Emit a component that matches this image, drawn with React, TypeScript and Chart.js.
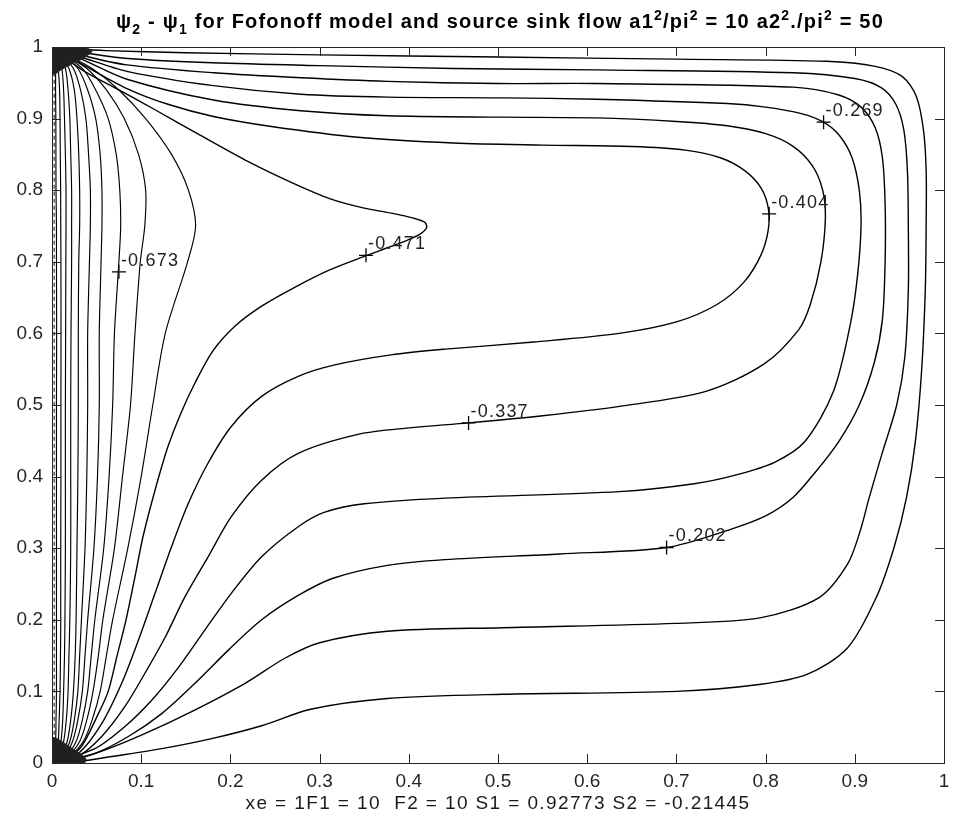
import React, { useEffect, useRef } from "react";
import { Chart, registerables } from "chart.js";
Chart.register(...registerables);

// ---------- axis ticks ----------
const xTicks = [0, 0.1, 0.2, 0.3, 0.4, 0.5, 0.6, 0.7, 0.8, 0.9, 1];
const yTicks = [0, 0.1, 0.2, 0.3, 0.4, 0.5, 0.6, 0.7, 0.8, 0.9, 1];

// ---------- ring contours (bottom-left corner -> right wall -> top-left corner) ----------
const L1x = [0, 0.03, 0.067, 0.123, 0.179, 0.235, 0.29, 0.376, 0.505, 0.7, 0.795, 0.847, 0.892, 0.924, 0.944, 0.958, 0.968, 0.975, 0.979, 0.98, 0.98, 0.977, 0.969, 0.953, 0.923, 0.868, 0.7, 0.5, 0.3, 0.15, 0.06, 0.02, 0];
const L1y = [0, 0.002, 0.009, 0.02, 0.034, 0.052, 0.075, 0.09, 0.096, 0.1, 0.11, 0.124, 0.161, 0.231, 0.301, 0.371, 0.45, 0.55, 0.66, 0.75, 0.827, 0.884, 0.931, 0.959, 0.973, 0.98, 0.983, 0.986, 0.989, 0.992, 0.995, 0.998, 1];

const L2x = [0, 0.026, 0.059, 0.104, 0.16, 0.216, 0.262, 0.3, 0.376, 0.505, 0.699, 0.795, 0.86, 0.892, 0.906, 0.916, 0.93, 0.947, 0.956, 0.96, 0.96, 0.959, 0.955, 0.946, 0.93, 0.9, 0.831, 0.61, 0.45, 0.3, 0.18, 0.085, 0.035, 0];
const L2y = [0, 0.005, 0.018, 0.041, 0.074, 0.111, 0.147, 0.168, 0.184, 0.189, 0.195, 0.203, 0.231, 0.278, 0.324, 0.37, 0.43, 0.5, 0.566, 0.66, 0.75, 0.827, 0.884, 0.92, 0.943, 0.956, 0.964, 0.968, 0.97, 0.974, 0.978, 0.984, 0.992, 1];

const L3x = [0, 0.048, 0.0856, 0.123, 0.16, 0.198, 0.235, 0.276, 0.315, 0.376, 0.44, 0.569, 0.689, 0.76, 0.8, 0.83, 0.855, 0.882, 0.905, 0.922, 0.931, 0.934, 0.934, 0.931, 0.923, 0.907, 0.882, 0.831, 0.61, 0.5, 0.376, 0.279, 0.181, 0.084, 0.035, 0];
const L3y = [0, 0.0135, 0.037, 0.069, 0.111, 0.158, 0.2, 0.234, 0.258, 0.276, 0.284, 0.292, 0.301, 0.326, 0.345, 0.37, 0.405, 0.449, 0.5, 0.56, 0.62, 0.7, 0.78, 0.845, 0.887, 0.916, 0.933, 0.944, 0.949, 0.949, 0.952, 0.957, 0.964, 0.975, 0.988, 1];

const L4x = [0, 0.048, 0.0818, 0.112, 0.142, 0.1715, 0.201, 0.235, 0.276, 0.305, 0.35, 0.441, 0.636, 0.72, 0.766, 0.81, 0.844, 0.876, 0.895, 0.903, 0.907, 0.905, 0.897, 0.883, 0.865, 0.84, 0.8, 0.757, 0.61, 0.506, 0.376, 0.279, 0.181, 0.084, 0.035, 0];
const L4y = [0, 0.02, 0.051, 0.088, 0.134, 0.186, 0.237, 0.288, 0.33, 0.35, 0.362, 0.37, 0.379, 0.39, 0.402, 0.42, 0.449, 0.519, 0.613, 0.68, 0.75, 0.8, 0.845, 0.876, 0.895, 0.907, 0.916, 0.921, 0.927, 0.929, 0.93, 0.934, 0.946, 0.966, 0.985, 1];

const L5x = [0, 0.0295, 0.0557, 0.0818, 0.104, 0.127, 0.149, 0.175, 0.201, 0.235, 0.276, 0.343, 0.4, 0.467, 0.55, 0.636, 0.733, 0.798, 0.837, 0.85, 0.862, 0.867, 0.864, 0.852, 0.83, 0.8, 0.757, 0.7, 0.61, 0.506, 0.376, 0.279, 0.181, 0.084, 0.035, 0];
const L5y = [0, 0.0095, 0.037, 0.079, 0.125, 0.176, 0.232, 0.288, 0.344, 0.395, 0.4325, 0.459, 0.468, 0.475, 0.485, 0.498, 0.519, 0.557, 0.605, 0.64, 0.7, 0.76, 0.8, 0.835, 0.862, 0.879, 0.89, 0.896, 0.901, 0.902, 0.904, 0.911, 0.926, 0.955, 0.982, 1];

const L6x = [0, 0.0295, 0.0557, 0.078, 0.097, 0.1155, 0.134, 0.153, 0.175, 0.201, 0.235, 0.276, 0.317, 0.38, 0.441, 0.54, 0.636, 0.7, 0.745, 0.776, 0.795, 0.803, 0.803, 0.795, 0.777, 0.75, 0.71, 0.65, 0.55, 0.45, 0.343, 0.246, 0.181, 0.13, 0.084, 0.035, 0];
const L6y = [0, 0.0135, 0.055, 0.111, 0.172, 0.237, 0.302, 0.363, 0.419, 0.47, 0.512, 0.54, 0.556, 0.57, 0.578, 0.588, 0.6, 0.616, 0.64, 0.672, 0.71, 0.745, 0.775, 0.803, 0.827, 0.845, 0.856, 0.861, 0.863, 0.866, 0.874, 0.889, 0.903, 0.92, 0.942, 0.975, 1];

// level -0.471 (folded contour with the tip near x = 0.42)
const L7x = [0, 0.015, 0.033, 0.052, 0.063, 0.073, 0.083, 0.093, 0.102, 0.1155, 0.13, 0.145, 0.16, 0.18, 0.205, 0.235, 0.27, 0.31, 0.353, 0.377, 0.398, 0.413, 0.42, 0.418, 0.405, 0.38, 0.35, 0.312, 0.27, 0.22, 0.166, 0.116, 0.075, 0.035, 0.01, 0];
const L7y = [0, 0.005, 0.023, 0.069, 0.1, 0.15, 0.2, 0.26, 0.316, 0.381, 0.442, 0.49, 0.53, 0.575, 0.61, 0.638, 0.663, 0.688, 0.709, 0.72, 0.73, 0.739, 0.748, 0.755, 0.761, 0.768, 0.775, 0.788, 0.81, 0.84, 0.877, 0.912, 0.94, 0.967, 0.99, 1];

// ---------- wall-hugging contours (shared y grid) ----------
const fanY = [0, 0.01, 0.03, 0.06, 0.1, 0.15, 0.2, 0.3, 0.4, 0.5, 0.6, 0.7, 0.75, 0.8, 0.85, 0.9, 0.94, 0.97, 0.99, 1];
const L8x = [0, 0.02, 0.035, 0.045, 0.054, 0.061, 0.068, 0.085, 0.1, 0.113, 0.127, 0.152, 0.161, 0.153, 0.134, 0.105, 0.075, 0.045, 0.015, 0];
const L9x = [0, 0.018, 0.031, 0.039, 0.046, 0.052, 0.057, 0.07, 0.079, 0.088, 0.093, 0.099, 0.104, 0.105, 0.097, 0.081, 0.061, 0.039, 0.013, 0];
const L10x = [0, 0.016, 0.027, 0.034, 0.04, 0.044, 0.048, 0.058, 0.064, 0.068, 0.07, 0.075, 0.077, 0.076, 0.072, 0.063, 0.049, 0.034, 0.012, 0];
const L11x = [0, 0.014, 0.023, 0.029, 0.034, 0.037, 0.04, 0.047, 0.051, 0.053, 0.053, 0.055, 0.056, 0.056, 0.054, 0.049, 0.04, 0.029, 0.011, 0];
const L12x = [0, 0.012, 0.02, 0.025, 0.029, 0.031, 0.033, 0.037, 0.039, 0.04, 0.04, 0.042, 0.043, 0.043, 0.041, 0.038, 0.032, 0.024, 0.01, 0];
const L13x = [0, 0.01, 0.017, 0.021, 0.024, 0.026, 0.027, 0.028, 0.029, 0.0295, 0.0295, 0.03, 0.031, 0.031, 0.03, 0.028, 0.025, 0.019, 0.009, 0];
const L14x = [0, 0.008, 0.013, 0.016, 0.018, 0.019, 0.02, 0.021, 0.021, 0.021, 0.0213, 0.022, 0.022, 0.022, 0.021, 0.02, 0.018, 0.015, 0.008, 0];
const L15x = [0, 0.006, 0.01, 0.012, 0.013, 0.014, 0.0145, 0.015, 0.015, 0.015, 0.0153, 0.0155, 0.0157, 0.0157, 0.015, 0.014, 0.013, 0.011, 0.006, 0];
const L16x = [0, 0.004, 0.007, 0.008, 0.009, 0.0095, 0.0098, 0.0098, 0.01, 0.01, 0.0101, 0.01, 0.0098, 0.0097, 0.0093, 0.009, 0.0085, 0.007, 0.005, 0];
const L17x = [0, 0.002, 0.004, 0.0045, 0.005, 0.005, 0.005, 0.005, 0.005, 0.005, 0.0052, 0.005, 0.005, 0.0045, 0.0044, 0.0043, 0.004, 0.004, 0.003, 0];

// dashed contour right on the left wall
const wallX = [0.0025, 0.0025];
const wallY = [0.02, 0.98];

// dense contour clusters at the source / sink corners
const blobTopX = [0, 0.03, 0.045, 0.036, 0.022, 0.01, 0.003, 0];
const blobTopY = [1, 1, 0.995, 0.985, 0.976, 0.968, 0.962, 0.962];
const blobBotX = [0, 0.036, 0.038, 0.028, 0.016, 0.006, 0];
const blobBotY = [0, 0, 0.006, 0.016, 0.026, 0.034, 0.036];

// ---------- contour labels ----------
const labelText = ["-0.673", "-0.471", "-0.404", "-0.337", "-0.269", "-0.202"];
const labelX = [0.075, 0.352, 0.804, 0.467, 0.865, 0.689];
const labelY = [0.686, 0.709, 0.767, 0.475, 0.895, 0.301];

// ---------- texts ----------
const titleParts: [string, string][] = [
  ["ψ", "n"], ["2", "sub"], [" - ", "n"], ["ψ", "n"], ["1", "sub"],
  [" for Fofonoff model and source sink flow a1", "n"], ["2", "sup"],
  ["/pi", "n"], ["2", "sup"], [" = 10 a2", "n"], ["2", "sup"],
  ["./pi", "n"], ["2", "sup"], [" = 50", "n"],
];
const xLabel = "xe = 1F1 = 10  F2 = 10 S1 = 0.92773 S2 = -0.21445";

const FONT = "'Liberation Sans', Arial, Helvetica, sans-serif";

function pts(xs: number[], ys: number[]) {
  return xs.map((v, i) => ({ x: v, y: ys[i] }));
}

export default function App() {
  const ref = useRef<HTMLCanvasElement>(null);
  useEffect(() => {
    const canvas = ref.current;
    if (!canvas) return;
    const ring: [number[], number[]][] = [
      [L1x, L1y], [L2x, L2y], [L3x, L3y], [L4x, L4y], [L5x, L5y], [L6x, L6y], [L7x, L7y],
    ];
    const fans = [L8x, L9x, L10x, L11x, L12x, L13x, L14x, L15x, L16x, L17x];
    const lineStyle = {
      showLine: true, borderColor: "#000", borderWidth: 1.4, pointRadius: 0,
      tension: 0.3, fill: false,
    };
    const datasets: any[] = [
      {
        showLine: true, data: pts(blobTopX, blobTopY), pointRadius: 0, tension: 0.3,
        borderColor: "#2a2a2a", borderWidth: 1, backgroundColor: "#202020", fill: "shape",
      },
      {
        showLine: true, data: pts(blobBotX, blobBotY), pointRadius: 0, tension: 0.3,
        borderColor: "#2a2a2a", borderWidth: 1, backgroundColor: "#202020", fill: "shape",
      },
      ...ring.map(([xs, ys]) => ({ ...lineStyle, data: pts(xs, ys) })),
      ...fans.map((xs) => ({ ...lineStyle, borderWidth: 1.15, data: pts(xs, fanY) })),
      { ...lineStyle, borderColor: "#555", borderWidth: 1.4, borderDash: [4, 3], tension: 0, data: pts(wallX, wallY) },
      {
        showLine: false, data: pts(labelX, labelY), pointStyle: "cross", pointRadius: 7,
        borderColor: "#000", backgroundColor: "#000", borderWidth: 1.3,
      },
    ];

    const decor = {
      id: "decor",
      afterDatasetsDraw(chart: any) {
        const ctx = chart.ctx as CanvasRenderingContext2D;
        const { left, right, top, bottom } = chart.chartArea;
        const xs = chart.scales.x, ys = chart.scales.y;
        ctx.save();
        // frame
        ctx.strokeStyle = "#262626";
        ctx.lineWidth = 1;
        ctx.strokeRect(Math.round(left) + 0.5, Math.round(top) + 0.5, Math.round(right - left), Math.round(bottom - top));
        // inward ticks
        const tl = 9;
        ctx.beginPath();
        xTicks.forEach((t) => {
          const px = Math.round(xs.getPixelForValue(t)) + 0.5;
          ctx.moveTo(px, bottom); ctx.lineTo(px, bottom - tl);
          ctx.moveTo(px, top); ctx.lineTo(px, top + tl);
        });
        yTicks.forEach((t) => {
          const py = Math.round(ys.getPixelForValue(t)) + 0.5;
          ctx.moveTo(left, py); ctx.lineTo(left + tl, py);
          ctx.moveTo(right, py); ctx.lineTo(right - tl, py);
        });
        ctx.stroke();

        // contour labels
        ctx.fillStyle = "#222";
        ctx.font = `18px ${FONT}`;
        (ctx as any).letterSpacing = "1.2px";
        ctx.textAlign = "left";
        ctx.textBaseline = "alphabetic";
        labelText.forEach((t, i) => {
          const px = xs.getPixelForValue(labelX[i]);
          const py = ys.getPixelForValue(labelY[i]);
          ctx.fillText(t, px + 2, py - 6);
        });

        // title with sub/superscripts
        const mainF = `bold 20px ${FONT}`;
        const smallF = `bold 14px ${FONT}`;
        const targetW = 768;
        const centerX = 500;
        const baseY = 28;
        (ctx as any).letterSpacing = "0px";
        let raw = 0, nChars = 0;
        titleParts.forEach(([t, k]) => {
          ctx.font = k === "n" ? mainF : smallF;
          raw += ctx.measureText(t).width;
          nChars += t.length;
        });
        const ls = Math.max(0, Math.min(3, (targetW - raw) / nChars));
        (ctx as any).letterSpacing = `${ls}px`;
        let x = centerX - (raw + ls * nChars) / 2;
        ctx.fillStyle = "#000";
        titleParts.forEach(([t, k]) => {
          ctx.font = k === "n" ? mainF : smallF;
          const dy = k === "sub" ? 6 : k === "sup" ? -8 : 0;
          ctx.fillText(t, x, baseY + dy);
          x += ctx.measureText(t).width;
        });

        // x label
        (ctx as any).letterSpacing = "0px";
        ctx.font = `19px ${FONT}`;
        const w0 = ctx.measureText(xLabel).width;
        const ls2 = Math.max(0, Math.min(3, (505 - w0) / xLabel.length));
        (ctx as any).letterSpacing = `${ls2}px`;
        const w1 = ctx.measureText(xLabel).width;
        ctx.fillStyle = "#1a1a1a";
        ctx.fillText(xLabel, 498 - w1 / 2, 809);
        ctx.restore();
      },
    };

    const tickFmt = (v: any) => String(Math.round(Number(v) * 10) / 10);
    const chart = new Chart(canvas, {
      type: "scatter",
      data: { datasets },
      options: {
        responsive: false,
        animation: false,
        events: [],
        layout: { padding: { top: 47, right: 13, left: 0, bottom: 0 } },
        plugins: { legend: { display: false }, tooltip: { enabled: false }, title: { display: false } },
        scales: {
          x: {
            type: "linear", min: 0, max: 1,
            afterFit: (s: any) => { s.height = 61; },
            afterBuildTicks: (s: any) => { s.ticks = xTicks.map((v) => ({ value: v })); },
            ticks: { callback: tickFmt, font: { family: FONT, size: 19 }, color: "#262626", padding: 7, maxRotation: 0, autoSkip: false },
            grid: { display: false, drawTicks: false },
            border: { display: false },
          },
          y: {
            type: "linear", min: 0, max: 1,
            afterFit: (s: any) => { s.width = 52; },
            afterBuildTicks: (s: any) => { s.ticks = yTicks.map((v) => ({ value: v })); },
            ticks: { callback: tickFmt, font: { family: FONT, size: 19 }, color: "#262626", padding: 9, autoSkip: false },
            grid: { display: false, drawTicks: false },
            border: { display: false },
          },
        },
      },
      plugins: [decor],
    } as any);
    return () => chart.destroy();
  }, []);
  return (
    <div style={{ position: "fixed", left: 0, top: 0, width: 957, height: 824, background: "#fff" }}>
      <canvas ref={ref} width={957} height={824} style={{ width: 957, height: 824, display: "block" }} />
    </div>
  );
}
